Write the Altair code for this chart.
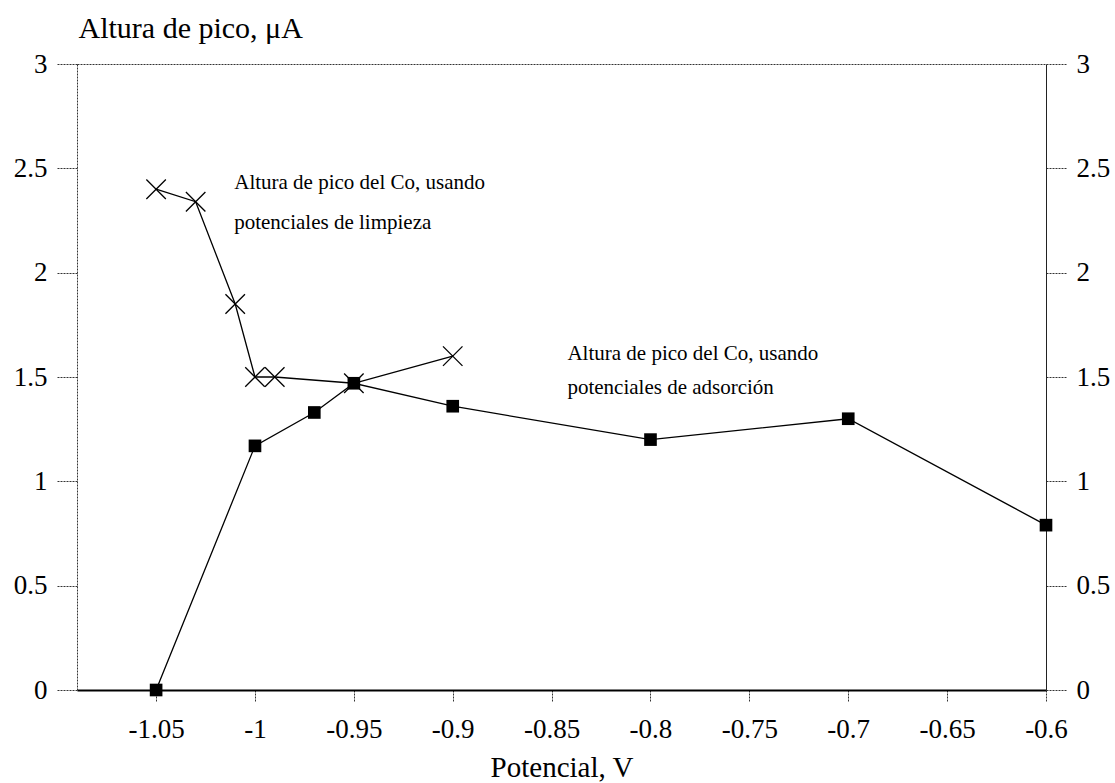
import altair as alt
import pandas as pd

# Peak height of Co versus potential
potencial_limpieza = [-1.05, -1.03, -1.01, -1.0, -0.99, -0.95, -0.9]
altura_limpieza = [2.40, 2.34, 1.85, 1.50, 1.50, 1.47, 1.60]

potencial_adsorcion = [-1.05, -1.0, -0.97, -0.95, -0.9, -0.8, -0.7, -0.6]
altura_adsorcion = [0.0, 1.17, 1.33, 1.47, 1.36, 1.20, 1.30, 0.79]

x_ticks = [-1.05, -1.0, -0.95, -0.9, -0.85, -0.8, -0.75, -0.7, -0.65, -0.6]
y_ticks = [0, 0.5, 1, 1.5, 2, 2.5, 3]

notas_texto = [
    "Altura de pico del Co, usando",
    "potenciales de limpieza",
    "Altura de pico del Co, usando",
    "potenciales de adsorción",
]
notas_x = [-1.0105, -1.0105, -0.842, -0.842]
notas_y = [2.40, 2.21, 1.58, 1.42]

FONT = "Liberation Serif"

limpieza = pd.DataFrame({"potencial": potencial_limpieza, "altura": altura_limpieza})
adsorcion = pd.DataFrame({"potencial": potencial_adsorcion, "altura": altura_adsorcion})
notas = pd.DataFrame({"potencial": notas_x, "altura": notas_y, "texto": notas_texto})

xscale = alt.Scale(domain=[-1.09, -0.6], nice=False, zero=False)
yscale = alt.Scale(domain=[0, 3], nice=False, zero=False)

axis_bottom = alt.Axis(
    orient="bottom", values=x_ticks,
    labelExpr="replace(format(datum.value, '~g'), '\u2212', '-')",
    tickSize=12, tickColor="#333", tickDash=[2, 1], tickWidth=1,
    domainColor="black", domainWidth=2,
    labelFont=FONT, labelFontSize=27, labelColor="black",
    labelBaseline="alphabetic", labelPadding=35,
    labelFlush=False, labelOverlap=False, labelBound=False,
    grid=False,
    title="Potencial, V", titleFont=FONT, titleFontSize=29,
    titleFontWeight="normal", titleColor="black",
    titleBaseline="alphabetic", titleY=86,
)
axis_left = alt.Axis(
    orient="left", values=y_ticks, format="~g",
    tickSize=20, tickColor="#333", tickDash=[2, 1], tickWidth=1,
    domainColor="#333", domainDash=[2, 1], domainWidth=1,
    labelFont=FONT, labelFontSize=27, labelColor="black", labelPadding=10,
    labelFlush=False, labelOverlap=False, labelBound=False,
    grid=False,
    title="Altura de pico, μA", titleFont=FONT, titleFontSize=30,
    titleFontWeight="normal", titleColor="black",
    titleAngle=0, titleAlign="left", titleBaseline="alphabetic",
    titleX=1, titleY=-27,
)
axis_right = alt.Axis(
    orient="right", values=y_ticks, format="~g",
    tickSize=20, tickColor="#333", tickDash=[2, 1], tickWidth=1,
    domainColor="#222", domainWidth=1,
    labelFont=FONT, labelFontSize=27, labelColor="black", labelPadding=10,
    labelFlush=False, labelOverlap=False, labelBound=False,
    grid=False, title=None,
)
axis_top = alt.Axis(
    orient="top", labels=False, ticks=False, grid=False,
    domainColor="#333", domainDash=[2, 1], domainWidth=1, title=None,
)

linea_limpieza = alt.Chart(limpieza).mark_line(color="black", strokeWidth=1.3).encode(
    x=alt.X("potencial:Q", scale=xscale, axis=axis_bottom),
    y=alt.Y("altura:Q", scale=yscale, axis=axis_left),
)
cruces = alt.Chart(limpieza).mark_point(
    shape="M-1,-1L1,1M-1,1L1,-1", filled=False, color="black",
    strokeWidth=1.3, size=380, opacity=1,
).encode(
    x=alt.X("potencial:Q", scale=xscale, axis=None),
    y=alt.Y("altura:Q", scale=yscale, axis=None),
)
linea_adsorcion = alt.Chart(adsorcion).mark_line(color="black", strokeWidth=1.3).encode(
    x=alt.X("potencial:Q", scale=xscale, axis=axis_top),
    y=alt.Y("altura:Q", scale=yscale, axis=axis_right),
)
cuadrados = alt.Chart(adsorcion).mark_square(
    color="black", size=160, opacity=1,
).encode(
    x=alt.X("potencial:Q", scale=xscale, axis=None),
    y=alt.Y("altura:Q", scale=yscale, axis=None),
)
etiquetas = alt.Chart(notas).mark_text(
    align="left", baseline="alphabetic", font=FONT, fontSize=21, color="black",
).encode(
    x=alt.X("potencial:Q", scale=xscale, axis=None),
    y=alt.Y("altura:Q", scale=yscale, axis=None),
    text="texto:N",
)

chart = alt.layer(
    linea_limpieza, linea_adsorcion, cruces, cuadrados, etiquetas
).resolve_axis(
    x="independent", y="independent"
).properties(
    width=969, height=626,
    autosize=alt.AutoSizeParams(type="none"),
    padding={"left": 77, "top": 64, "right": 69, "bottom": 93},
    background="white",
).configure_view(stroke=None)

chart.save("out.html", embed_options={"renderer": "svg", "actions": False})
